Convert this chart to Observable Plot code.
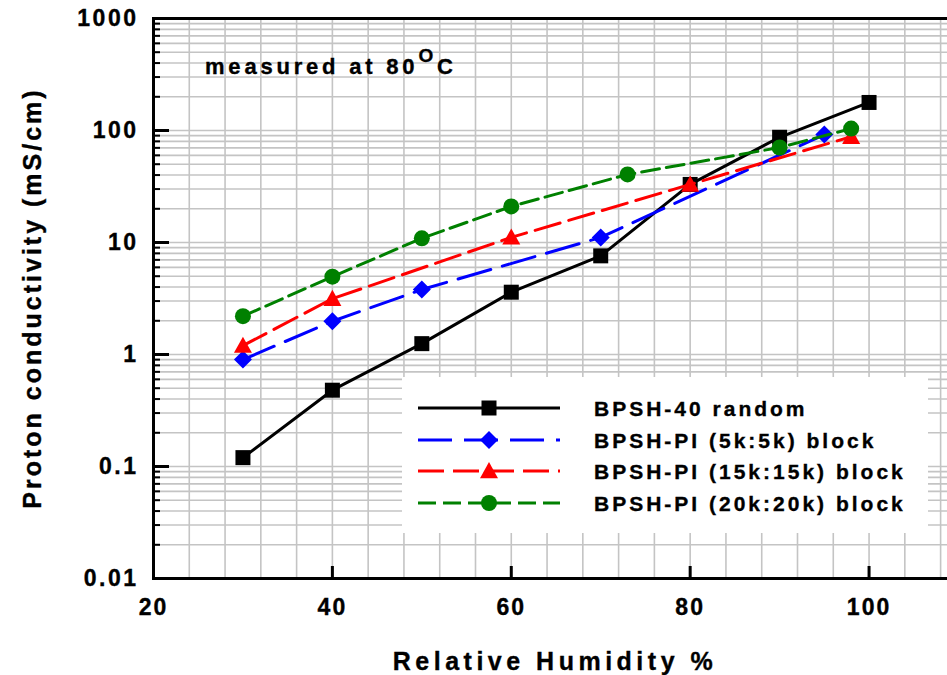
<!DOCTYPE html>
<html><head><meta charset="utf-8">
<script src="https://cdn.jsdelivr.net/npm/d3@7"></script>
<script src="https://cdn.jsdelivr.net/npm/@observablehq/plot@0.6"></script>
<style>
html,body{margin:0;padding:0;background:#fff;overflow:hidden}
#wrap{position:relative;width:960px;height:675px}
#wrap svg{display:block}
#wrap svg text{stroke:#000;stroke-width:0.35px}
#wrap svg g[aria-label="y-axis tick label"] text{letter-spacing:2.5px}
#wrap svg g[aria-label="x-axis tick label"] text{letter-spacing:2px}
</style></head><body><div id="wrap"></div>
<script>
// ---------- data ----------
const seriesNames = ["BPSH-40 random", "BPSH-PI (5k:5k) block", "BPSH-PI (15k:15k) block", "BPSH-PI (20k:20k) block"];
const seriesColors = ["#000000", "#0000ff", "#ff0000", "#008000"];
const randomRH   = [30, 40, 50, 60, 70, 80, 90, 100];
const randomCond = [0.12, 0.48, 1.25, 3.6, 7.6, 33, 87, 178];
const pi5RH   = [30, 40, 50, 70, 95];
const pi5Cond = [0.9, 1.98, 3.8, 11.1, 92];
const pi15RH   = [30, 40, 60, 80, 98];
const pi15Cond = [1.2, 3.15, 11.1, 33, 88];
const pi20RH   = [30, 40, 50, 60, 73, 90, 98];
const pi20Cond = [2.2, 4.95, 10.9, 21, 40.5, 70.5, 104];
const xTickValues = [20, 40, 60, 80, 100];
const xTickLabels = ["20", "40", "60", "80", "100"];
const yTickValues = [0.01, 0.1, 1, 10, 100, 1000];
const yTickLabels = ["0.01", "0.1", "1", "10", "100", "1000"];
const xTitle = "Relative Humidity %";
const yTitle = "Proton conductivity (mS/cm)";

// ---------- layout ----------
const W = 960, H = 675, mL = 153, mR = 2, mT = 18, mB = 97;
const innerW = W - mL - mR, innerH = H - mT - mB;
const FONT = "'Liberation Sans', Arial, Helvetica, sans-serif";

const xGrid = d3.range(24, 110, 4);
const yMinor = [];
for (const dec of [0.01, 0.1, 1, 10, 100]) for (let k = 2; k <= 9; k++) yMinor.push(+(dec * k).toPrecision(3));
const yGrid = yTickValues.concat(yMinor);

const mk = (xs, ys) => xs.map((x, i) => ({x, y: ys[i]}));
const series = [mk(randomRH, randomCond), mk(pi5RH, pi5Cond), mk(pi15RH, pi15Cond), mk(pi20RH, pi20Cond)];
const dashes = [null, "34,12", "26,9", "18,7"];

const sym = {
  square: {draw(c, s) { const r = Math.sqrt(s / Math.PI); c.rect(-r, -r, 2 * r, 2 * r); }},
  diamond: {draw(c, s) { const r = Math.sqrt(s / Math.PI); c.moveTo(0, -r); c.lineTo(r, 0); c.lineTo(0, r); c.lineTo(-r, 0); c.closePath(); }},
  triangle: {draw(c, s) { const r = Math.sqrt(s / Math.PI); c.moveTo(0, -r); c.lineTo(r, 0.8 * r); c.lineTo(-r, 0.8 * r); c.closePath(); }},
  circle: "circle"
};
const symbols = [sym.square, sym.diamond, sym.triangle, sym.circle];
const radii = [7.5, 9, 9, 8];
const widths = [3, 3, 3, 3];

const seriesMarks = [];
series.forEach((d, i) => {
  seriesMarks.push(Plot.line(d, {x: "x", y: "y", stroke: seriesColors[i], strokeWidth: widths[i], strokeDasharray: dashes[i]}));
  seriesMarks.push(Plot.dot(d, {x: "x", y: "y", symbol: symbols[i], r: radii[i], fill: seriesColors[i], stroke: "none"}));
});

const svg = Plot.plot({
  width: W, height: H,
  marginLeft: mL, marginRight: mR, marginTop: mT, marginBottom: mB,
  x: {domain: [20, 110]},
  y: {type: "log", domain: [0.01, 1000]},
  style: {fontFamily: FONT, background: "white"},
  marks: [
    Plot.ruleX(xGrid, {x: d => d, stroke: "#c4c4c4", strokeWidth: 1.6}),
    Plot.ruleY(yGrid, {y: d => d, stroke: "#c4c4c4", strokeWidth: 1.6}),
    ...seriesMarks,
    Plot.tickY(yMinor, {y: d => d, insetRight: innerW - 7, stroke: "#000", strokeWidth: 2}),
    Plot.tickY(yTickValues, {y: d => d, insetRight: innerW - 16, stroke: "#000", strokeWidth: 3}),
    Plot.tickX(xTickValues, {x: d => d, insetTop: innerH - 12, stroke: "#000", strokeWidth: 3}),
    Plot.frame({stroke: "#000", strokeWidth: 3}),
    Plot.axisY({ticks: yTickValues, tickSize: 0, tickPadding: 15, tickFormat: d => yTickLabels[yTickValues.indexOf(d)], fontSize: 23, fontWeight: "bold", fontFamily: FONT, fill: "#000", label: null}),
    Plot.axisX({ticks: xTickValues, tickSize: 0, tickPadding: 20, tickFormat: d => xTickLabels[xTickValues.indexOf(d)], fontSize: 23, fontWeight: "bold", fontFamily: FONT, fill: "#000", label: null})
  ]
});
document.getElementById("wrap").appendChild(svg);

// ---------- annotations, titles, legend ----------
const s = d3.select(svg);
const txt = (x, y, t, size, ls, anchor) => s.append("text").attr("x", x).attr("y", y)
  .attr("font-family", FONT).attr("font-weight", "bold").attr("font-size", size)
  .attr("text-anchor", anchor).style("letter-spacing", ls + "px").attr("fill", "#000").text(t);

txt(555, 670, xTitle, 25, 4.5, "middle");
txt(0, 0, yTitle, 25, 3, "middle").attr("transform", "translate(41,298) rotate(-90)");

const ann = txt(205, 74, "measured at 80", 22, 3.8, "start");
ann.append("tspan").attr("dy", -12).attr("font-size", 19).text("O");
ann.append("tspan").attr("dy", 12).text("C");

const lg = s.append("g").attr("transform", "translate(402,377)");
lg.append("rect").attr("width", 526).attr("height", 156).attr("fill", "#fff");
const rowY = [31, 63, 94, 126];
seriesNames.forEach((name, i) => {
  const g = lg.append("g").attr("transform", `translate(0,${rowY[i]})`);
  g.append("line").attr("x1", 16).attr("x2", 158).attr("stroke", seriesColors[i])
    .attr("stroke-width", widths[i]).attr("stroke-dasharray", dashes[i]);
  const p = d3.path();
  if (i === 3) { p.arc(0, 0, radii[i], 0, 2 * Math.PI); } else symbols[i].draw(p, Math.PI * radii[i] * radii[i]);
  g.append("path").attr("d", p.toString()).attr("transform", "translate(87,0)").attr("fill", seriesColors[i]);
  g.append("text").attr("x", 192).attr("y", 0).attr("dy", "0.36em").attr("text-anchor", "start")
    .attr("font-family", FONT).attr("font-weight", "bold").attr("font-size", 21)
    .style("letter-spacing", "3px").attr("fill", "#000").text(name);
});
</script></body></html>
